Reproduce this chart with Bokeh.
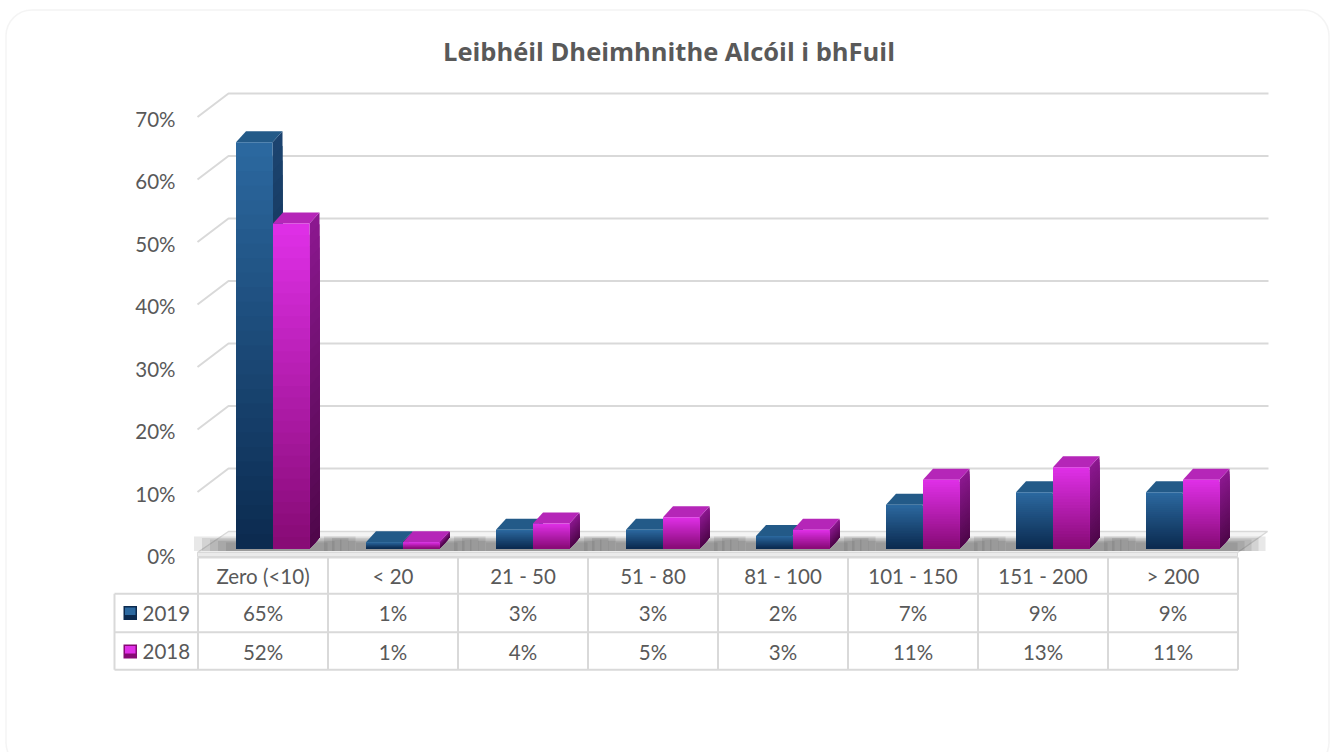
import numpy as np
from bokeh.plotting import figure
from bokeh.models import Range1d, BoxAnnotation
from bokeh.core.properties import value
from bokeh.embed import file_html
from bokeh.resources import INLINE

# ---------------- data ----------------
title_text = "Leibhéil Dheimhnithe Alcóil i bhFuil"
categories = ["Zero (<10)", "< 20", "21 - 50", "51 - 80", "81 - 100", "101 - 150", "151 - 200", "> 200"]
series_names = ["2019", "2018"]
values_2019 = [65, 1, 3, 3, 2, 7, 9, 9]
values_2018 = [52, 1, 4, 5, 3, 11, 13, 11]
y_ticks = [0, 10, 20, 30, 40, 50, 60, 70]
y_tick_labels = ["0%", "10%", "20%", "30%", "40%", "50%", "60%", "70%"]

# ---------------- layout helpers (pixel -> data) ----------------
W, H = 1331, 752
CX0, CW = 262.5, 130.0      # screen x of first category centre, px per category
Y0, PYU = 548.0, 6.25       # screen y of 0 at bar front, px per percent


def xs(sx):
    return (sx - CX0) / CW


def ys(sy):
    return (Y0 - sy) / PYU


def dxp(px):
    return px / CW


def dyp(px):
    return px / PYU


def lerp(c1, c2, t):
    a = [int(c1[i:i + 2], 16) for i in (1, 3, 5)]
    b = [int(c2[i:i + 2], 16) for i in (1, 3, 5)]
    return "#%02x%02x%02x" % tuple(int(round(a[k] + (b[k] - a[k]) * t)) for k in range(3))


FONT = value("Lato")
TXT = "#595959"
GRID = "#d9d9d9"

p = figure(width=W, height=H, output_backend="svg", toolbar_location=None,
           x_range=Range1d(xs(0), xs(W)), y_range=Range1d(ys(H), ys(0)),
           x_axis_location=None, y_axis_location=None, min_border=0)
p.grid.visible = False
p.outline_line_color = None
p.background_fill_color = "white"
p.border_fill_color = "white"

# outer rounded border
p.add_layout(BoxAnnotation(left=xs(5.5), right=xs(1328.5), top=ys(9.5), bottom=ys(768),
                           fill_alpha=0, line_color=GRID, line_width=1.5, border_radius=26))

# title
p.text(x=[xs(668.5)], y=[ys(50)], text=[title_text], text_font=value("Open Sans"),
       text_font_size=value("25.5px"), text_font_style="bold", text_color=TXT,
       text_align="center", text_baseline="middle")

# ---------------- walls / gridlines ----------------
front_off = ys(554)        # front wall offset (data units, relative to tick)
back_off = ys(530.5)
gx, gy = [], []
for t in y_ticks[1:]:
    gx.append([xs(197), xs(228), xs(1268)])
    gy.append([t + front_off, t + back_off, t + back_off])
p.multi_line(gx, gy, line_color=GRID, line_width=2)

# y tick labels
p.text(x=[xs(175)] * len(y_ticks), y=[t + ys(555.5) for t in y_ticks], text=y_tick_labels,
       text_font=FONT, text_font_size=value("20.5px"), text_color=TXT,
       text_align="right", text_baseline="middle")

# floor slab
fl = xs(197)
fr = xs(197) + len(categories) * 1.0
p.patch([fl, fr, fr + dxp(30), fl + dxp(31)], [ys(552), ys(552), ys(531), ys(531)],
        fill_color="#f4f4f4", line_color=GRID, line_width=1.5)
p.patch([fl, fr, fr, fl], [ys(556), ys(556), ys(552), ys(552)],
        fill_color="#ebebeb", line_color=GRID, line_width=1)

# shadows under clusters
sh_l, sh_r, sh_b, sh_t = [], [], [], []
for i in range(len(categories)):
    for j in range(5):
        sh_l.append(i + dxp(-27 - 42 + 8 * j))
        sh_r.append(i + dxp(56.5 + 36 - 7 * j))
        sh_b.append(ys(550.5))
        sh_t.append(ys(536 + 1.5 * j))
p.quad(left=sh_l, right=sh_r, bottom=sh_b, top=sh_t, fill_color="#2a2a2a", fill_alpha=0.11, line_color=None)

# ---------------- 3D bars (gradient built by nested, shrinking layers) ----------------
series = [
    dict(vals=values_2019, off=(-27, 9.5), front=("#0b2a4f", "#2c69a0"),
         side=("#071d3a", "#1c4470"), top="#235a88"),
    dict(vals=values_2018, off=(10, 46.5), front=("#860a74", "#e030e8"),
         side=("#4f074a", "#8c1890"), top="#b526b8"),
]
DX, DY = dxp(10), dyp(11)
N = 28
for s in series:
    fq = dict(left=[], right=[], bottom=[], top=[], color=[])
    sp = dict(xs=[], ys=[], color=[])
    tp = dict(xs=[], ys=[])
    for i, v in enumerate(s["vals"]):
        x0 = i + dxp(s["off"][0])
        x1 = i + dxp(s["off"][1])
        for k in range(N, 0, -1):
            b = v * k / N
            f = (k - 0.5) / N
            fq["left"].append(x0)
            fq["right"].append(x1)
            fq["bottom"].append(0)
            fq["top"].append(b)
            fq["color"].append(lerp(s["front"][0], s["front"][1], f))
            sp["xs"].append([x1, x1 + DX, x1 + DX, x1])
            sp["ys"].append([0, DY, b + DY, b])
            sp["color"].append(lerp(s["side"][0], s["side"][1], f))
        tp["xs"].append([x0, x1, x1 + DX, x0 + DX])
        tp["ys"].append([v, v, v + DY, v + DY])
    p.patches(sp["xs"], sp["ys"], fill_color=sp["color"], line_color=None)
    p.patches(tp["xs"], tp["ys"], fill_color=s["top"], line_color=None)
    p.quad(left=fq["left"], right=fq["right"], bottom=fq["bottom"], top=fq["top"],
           fill_color=fq["color"], line_color=None)

# ---------------- data table ----------------
nc = len(categories)
col_edges = [i - 0.5 for i in range(nc + 1)]
row_y = [ys(557), ys(593.3), ys(631.7), ys(669.3)]
hx = [[xs(197), col_edges[-1]]]
hy = [[row_y[0], row_y[0]]]
for ry in row_y[1:]:
    hx.append([xs(114), col_edges[-1]])
    hy.append([ry, ry])
vx = [[xs(114), xs(114)]]
vy = [[row_y[1], row_y[3]]]
for ce in col_edges:
    vx.append([ce, ce])
    vy.append([row_y[0], row_y[3]])
p.multi_line(hx + vx, hy + vy, line_color=GRID, line_width=2)

# header (categories)
p.text(x=list(range(nc)), y=[ys(575.5)] * nc, text=categories, text_font=FONT,
       text_font_size=value("20.5px"), text_color=TXT, text_align="center", text_baseline="middle")
row_centres = [ys(612.5), ys(651)]
sw_cols = [("#0b2a4f", "#2c69a0"), ("#860a74", "#e030e8")]
for r, s in enumerate(series):
    p.text(x=list(range(nc)), y=[row_centres[r]] * nc, text=["%d%%" % v for v in s["vals"]],
           text_font=FONT, text_font_size=value("20.5px"), text_color=TXT,
           text_align="center", text_baseline="middle")
    # legend key swatch (small beveled square)
    yc = row_centres[r]
    p.quad(left=[xs(123)], right=[xs(136.5)], bottom=[yc - dyp(7)], top=[yc + dyp(7)],
           fill_color=sw_cols[r][0], line_color=None)
    p.quad(left=[xs(124.5)], right=[xs(135)], bottom=[yc - dyp(2)], top=[yc + dyp(5.5)],
           fill_color=sw_cols[r][1], line_color=None)
p.text(x=[xs(142)] * 2, y=row_centres, text=series_names, text_font=FONT,
       text_font_size=value("20.5px"), text_color=TXT, text_align="left", text_baseline="middle")

open("out.html", "w").write(file_html(p, INLINE))
